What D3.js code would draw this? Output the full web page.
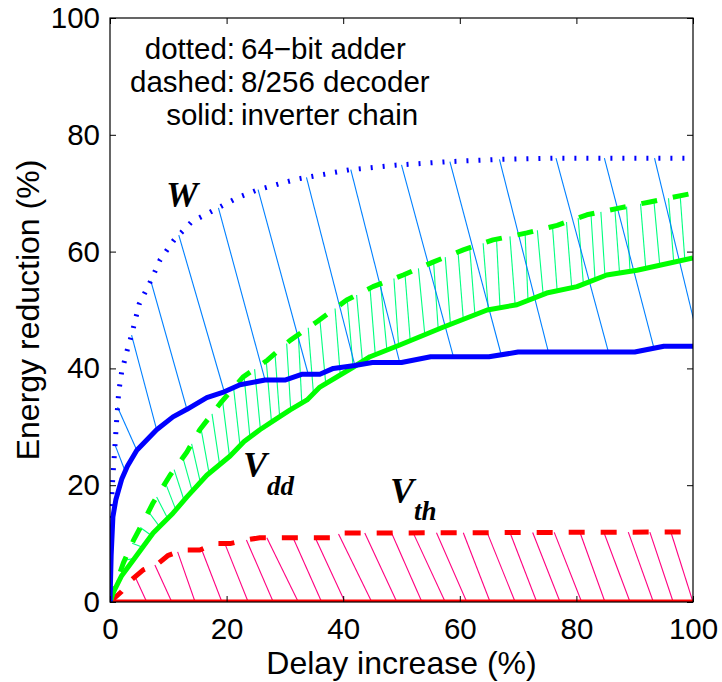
<!DOCTYPE html>
<html>
  <head>
    <title>Energy reduction vs delay increase</title>
    <script src="https://cdn.jsdelivr.net/npm/d3@7"></script>
    <style>
      body { margin: 0; background: #fff; }
      text { font-family: "Liberation Sans", Arial, Helvetica, sans-serif; }
    </style>
  </head>
  <body>
    <svg width="722" height="682" id="mainsvg"></svg>
    <script>
      // curves: [delay increase %, energy reduction %]
      const adderW = [[0,0],[0.05,10],[0.2,16],[0.4,20],[0.6,23],[0.9,27.5],[1.2,32],[1.5,36],[2,39.4],[3,43.3],[3.7,45.7],[5,51],[7,55],[8.6,58.6],[11,62],[14,65.1],[18.6,67.5],[22,69.3],[25.4,70.6],[32,72.4],[41,74],[49,74.8],[58,75.4],[67,75.8],[76,76],[100,76]];
      const invW = [[0,0],[0.2,8],[0.5,14.6],[1,17.5],[2,21],[3,23.3],[4.6,26],[8,29.5],[10.8,31.7],[13.2,33],[16.6,35],[19.6,36],[22.3,37.2],[26.6,38],[30,38],[33,39],[36,39],[38.3,40],[42,40.5],[45,41],[50,41],[55,42],[65,42],[70,42.8],[90,42.8],[95,43.8],[100,43.8]];
      const decVdd = [[0,0],[1,3],[2.3,6.7],[4,10.5],[5.7,13.7],[7.4,17],[10.3,21.7],[13.2,25.7],[15.4,29.5],[18.9,34],[22.8,38.5],[27,41.4],[30.9,44.8],[35.5,48],[40.6,51.7],[45.1,54],[50.3,56],[55.4,58.2],[60.6,60.3],[65.7,62],[71.5,63.2],[76.7,64.5],[81.8,66.3],[87.1,67.4],[92.6,68.5],[100,70]];
      const invVdd = [[0,0],[0.5,1.5],[2,4.5],[4,7.2],[7.4,11.8],[10.8,15.2],[13.2,18],[16.6,21.7],[20.6,25],[23,27.5],[25.7,29.5],[28,31],[30.9,32.9],[33.8,34.6],[36,36.8],[41.7,40.2],[44.6,42],[49.7,44],[57,47],[64.7,50],[69.8,50.9],[74.9,52.9],[80.1,54],[85.2,56],[90.4,56.8],[100,58.9]];
      const decVth = [[0,0],[2,1.8],[3.7,3.8],[5.7,5.5],[8.3,6.6],[10,8],[12.5,8.9],[15.4,8.9],[18,10],[20.6,10],[23.2,10.6],[25.7,11],[38,11],[39.5,11.8],[42,11.8],[100,12]];
      const invVth = [[0,0],[100,0]];

      // hatch lines: x on the upper curve -> x on the lower curve
      const wHatchTop = [0.86, 1.3, 3.7, 7.0, 11.8, 18.6, 25.4, 33.7, 41.3, 50.0, 58.3, 66.8, 76.5, 84.8, 93.4];
      const wHatchBot = [2.6, 4.6, 8.0, 13.2, 19.6, 26.6, 34.0, 42.0, 49.7, 58.9, 67.1, 75.2, 85.5, 93.3, 101.2];
      const vddHatchTop = [1.2, 2.5, 3.8, 5.2, 6.6, 8.0, 9.5, 11.0, 12.5, 14.0, 15.6, 17.5, 19.3, 21.2, 23.0, 24.8,
        26.8, 28.3, 30.3, 32.3, 34.0, 36.0, 38.6, 40.7, 42.3, 44.6, 46.4, 48.7,
        50.6, 52.9, 55.5, 57.5, 59.7, 61.7, 64.0, 66.3, 68.6, 71.2, 73.3,
        75.9, 78.3, 80.3, 82.5, 84.2, 86.6, 88.6, 91.0, 93.3, 95.8, 97.8];
      const vddHatchBot = [2.5, 4.2, 5.6, 7.1, 8.5, 9.9, 11.3, 12.7, 14.1, 15.5, 17.0, 18.8, 20.5, 22.3, 24.0, 25.8,
        27.7, 29.1, 31.0, 32.9, 34.9, 37.0, 39.5, 41.7, 43.3, 45.5, 47.5, 49.5,
        51.5, 54.0, 56.3, 58.4, 60.6, 62.6, 64.9, 66.9, 69.5, 71.7, 74.3,
        76.7, 79.2, 81.2, 83.2, 84.9, 87.4, 89.2, 91.9, 94.3, 96.7, 98.6];
      const vthHatchTop = [4.3, 7.7, 11.6, 15.7, 19.7, 23.4, 26.9, 31.4, 35.2, 39.2, 43.7, 48.3, 52.0, 56.0, 60.6, 64.7, 68.6, 72.5, 76.2, 80.6, 84.7, 88.9, 92.6, 96.2];
      const vthHatchBot = [6.3, 10.6, 14.6, 19.2, 23.7, 28.0, 32.3, 36.3, 40.3, 44.9, 49.2, 53.5, 57.5, 61.2, 65.2, 69.5, 73.2, 77.2, 80.9, 84.9, 89.2, 93.2, 96.6, 100];

      const xTicks = [0, 20, 40, 60, 80, 100];
      const yTicks = [0, 20, 40, 60, 80, 100];
      const noteKeys = ['dotted:', 'dashed:', 'solid:'];
      const noteNames = ['64\u2212bit adder', '8/256 decoder', 'inverter chain'];

      const svg = d3.select('#mainsvg');
      const margin = {top: 18, right: 29, bottom: 80, left: 110};
      const width = +svg.attr('width');
      const height = +svg.attr('height');
      const innerWidth = width - margin.left - margin.right;
      const innerHeight = height - margin.top - margin.bottom;
      const fontSize = 29.5;
      const labelSize = 32;

      const xScale = d3.scaleLinear().domain([0, 100]).range([0, innerWidth]);
      const yScale = d3.scaleLinear().domain([0, 100]).range([innerHeight, 0]);

      const g = svg.append('g')
        .attr('transform', `translate(${margin.left}, ${margin.top})`)
        .attr('id', 'maingroup');

      g.append('clipPath').attr('id', 'plotclip')
        .append('rect').attr('width', innerWidth).attr('height', innerHeight);

      // linear interpolation along a curve, flat beyond its ends
      const interp = function(curve, x){
        if (x <= curve[0][0]) return curve[0][1];
        for (let i = 1; i < curve.length; ++i) {
          if (x <= curve[i][0]) {
            const t = (x - curve[i-1][0]) / (curve[i][0] - curve[i-1][0]);
            return curve[i-1][1] + t * (curve[i][1] - curve[i-1][1]);
          }
        }
        return curve[curve.length - 1][1];
      };

      const plot = g.append('g').attr('clip-path', 'url(#plotclip)');

      const drawHatch = function(tops, bots, upper, lower, color){
        plot.append('g').selectAll('line')
          .data(tops.map((d, i) => [d, bots[i]]))
          .join('line')
          .attr('x1', d => xScale(d[0]))
          .attr('y1', d => yScale(interp(upper, d[0])))
          .attr('x2', d => xScale(d[1]))
          .attr('y2', d => yScale(interp(lower, d[1])))
          .attr('stroke', color)
          .attr('stroke-width', 1.1);
      };

      drawHatch(vthHatchTop, vthHatchBot, decVth, invVth, '#ff0080');
      drawHatch(vddHatchTop, vddHatchBot, decVdd, invVdd, '#00ff80');
      drawHatch(wHatchTop, wHatchBot, adderW, invW, '#0080ff');

      const line = d3.line().x(d => xScale(d[0])).y(d => yScale(d[1]));

      const drawCurve = function(data, color, dash){
        plot.append('path')
          .attr('d', line(data))
          .attr('fill', 'none')
          .attr('stroke', color)
          .attr('stroke-width', 5)
          .attr('stroke-linejoin', 'round')
          .attr('stroke-dasharray', dash);
      };

      drawCurve(invVth, '#ff0000', null);
      drawCurve(decVth, '#ff0000', '16,16');
      drawCurve(invVdd, '#00ff00', null);
      drawCurve(decVdd, '#00ff00', '16,16');
      drawCurve(invW, '#0000ff', null);
      drawCurve(adderW, '#0000ff', '2,10');

      // axes: ticks point inward on all four sides
      const styleAxis = function(sel){
        sel.selectAll('.domain').remove();
        sel.selectAll('.tick line').attr('stroke', '#000');
        sel.selectAll('.tick text').attr('fill', '#000').style('font-size', fontSize + 'px');
        sel.selectAll('.tick text').filter(function(){ return this.textContent === ''; }).remove();
      };
      g.append('g').attr('transform', `translate(0, ${innerHeight})`)
        .call(d3.axisBottom(xScale).tickValues(xTicks).tickSizeInner(-6).tickSizeOuter(0).tickPadding(16))
        .call(styleAxis);
      g.append('g')
        .call(d3.axisLeft(yScale).tickValues(yTicks).tickSizeInner(-6).tickSizeOuter(0).tickPadding(10))
        .call(styleAxis);
      g.append('g')
        .call(d3.axisTop(xScale).tickValues(xTicks).tickSizeInner(-6).tickSizeOuter(0).tickFormat(''))
        .call(styleAxis);
      g.append('g').attr('transform', `translate(${innerWidth}, 0)`)
        .call(d3.axisRight(yScale).tickValues(yTicks).tickSizeInner(-6).tickSizeOuter(0).tickFormat(''))
        .call(styleAxis);

      g.append('rect')
        .attr('width', innerWidth).attr('height', innerHeight)
        .attr('fill', 'none').attr('stroke', '#000').attr('stroke-width', 1.2);

      // axis labels
      svg.append('text')
        .attr('x', margin.left + innerWidth / 2)
        .attr('y', 674)
        .attr('text-anchor', 'middle')
        .style('font-size', labelSize + 'px')
        .text('Delay increase (%)');
      svg.append('text')
        .attr('transform', `translate(39, ${margin.top + innerHeight / 2}) rotate(-90)`)
        .attr('text-anchor', 'middle')
        .style('font-size', labelSize + 'px')
        .text('Energy reduction (%)');

      // legend text, aligned on the colon
      const notes = svg.append('g');
      notes.selectAll('.note-key')
        .data(noteKeys)
        .join('text')
        .attr('class', 'note-key')
        .attr('x', 235)
        .attr('y', (d, i) => 59 + i * 33)
        .attr('text-anchor', 'end')
        .style('font-size', fontSize + 'px')
        .text(d => d);
      notes.selectAll('.note-name')
        .data(noteNames)
        .join('text')
        .attr('class', 'note-name')
        .attr('x', 241)
        .attr('y', (d, i) => 59 + i * 33)
        .style('font-size', fontSize + 'px')
        .text(d => d);

      // parameter labels (main letter plus subscript as its own text)
      const serif = '"Liberation Serif", "Times New Roman", serif';
      const paramLabel = function(x, y, main, sub, subDy){
        const t = svg.append('text')
          .attr('x', x).attr('y', y)
          .style('font-family', serif)
          .style('font-weight', 'bold')
          .style('font-style', 'italic')
          .style('font-size', '36px')
          .text(main);
        if (sub) {
          const w = t.node().getComputedTextLength();
          svg.append('text')
            .attr('x', x + w).attr('y', y + subDy)
            .style('font-family', serif)
            .style('font-weight', 'bold')
            .style('font-style', 'italic')
            .style('font-size', '27px')
            .text(sub);
        }
      };
      paramLabel(166, 207, 'W', null);
      paramLabel(243, 477, 'V', 'dd', 18);
      paramLabel(390, 503, 'V', 'th', 17);
    </script>
  </body>
</html>
